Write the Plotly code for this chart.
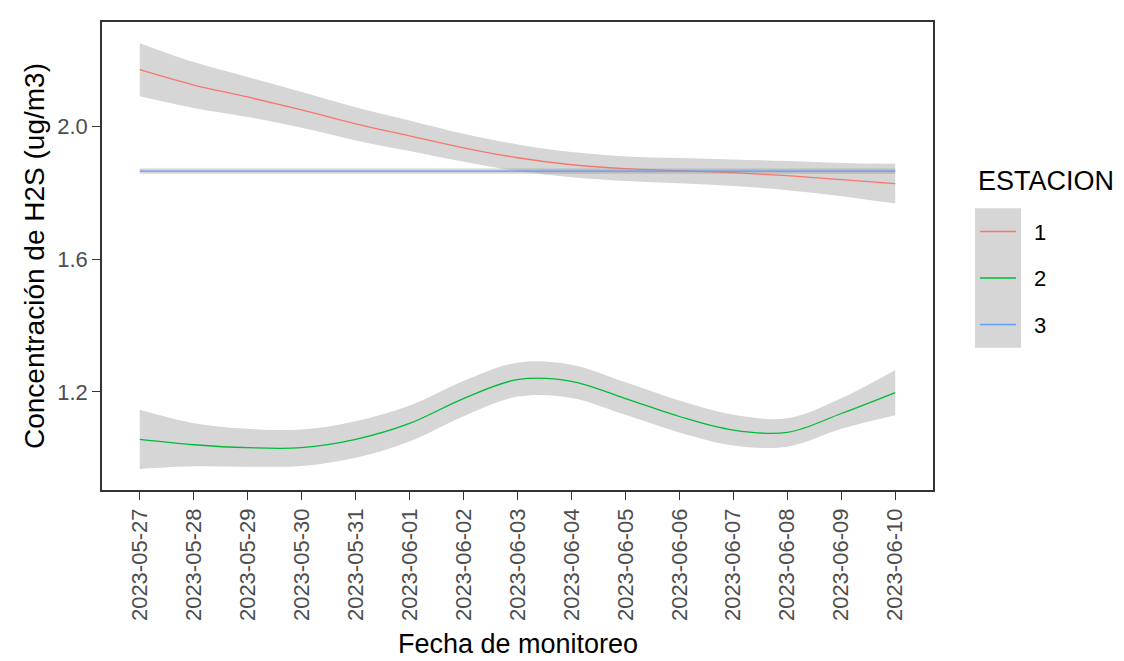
import plotly.graph_objects as go

# ---------------- data ----------------
dates = ["2023-05-27", "2023-05-28", "2023-05-29", "2023-05-30", "2023-05-31",
         "2023-06-01", "2023-06-02", "2023-06-03", "2023-06-04", "2023-06-05",
         "2023-06-06", "2023-06-07", "2023-06-08", "2023-06-09", "2023-06-10"]

est1_fit = [2.170, 2.124, 2.088, 2.049, 2.007, 1.971, 1.935, 1.905, 1.884, 1.872,
            1.866, 1.860, 1.851, 1.839, 1.827]
est1_se = [0.080, 0.069, 0.060, 0.054, 0.050, 0.046, 0.042, 0.040, 0.038, 0.037,
           0.038, 0.040, 0.044, 0.050, 0.060]

est2_fit = [1.057, 1.041, 1.032, 1.032, 1.057, 1.105, 1.180, 1.237, 1.232, 1.180,
            1.126, 1.085, 1.078, 1.135, 1.198]
est2_se = [0.089, 0.065, 0.057, 0.055, 0.055, 0.054, 0.053, 0.051, 0.050, 0.049,
           0.048, 0.046, 0.043, 0.046, 0.068]

est3_fit = [1.865] * 15
est3_se = [0.008] * 15

stations = ["1", "2", "3"]
colors = ["#F8766D", "#00BA38", "#619CFF"]
fits = [est1_fit, est2_fit, est3_fit]
ses = [est1_se, est2_se, est3_se]

y_ticks = [1.2, 1.6, 2.0]

# ---------------- figure ----------------
W, H = 1124, 661
L, R, T, B = 94, 925, 14, 482.5

fig = go.Figure()
ribbon = "rgba(153,153,153,0.4)"
for name, col, fit, se in zip(stations, colors, fits, ses):
    lo = [f - s for f, s in zip(fit, se)]
    hi = [f + s for f, s in zip(fit, se)]
    fig.add_trace(go.Scatter(x=dates, y=lo, mode="lines", line=dict(width=0, shape="spline"),
                             showlegend=False, hoverinfo="skip"))
    fig.add_trace(go.Scatter(x=dates, y=hi, mode="lines", line=dict(width=0, shape="spline"),
                             fill="tonexty", fillcolor=ribbon, showlegend=False, hoverinfo="skip"))
    fig.add_trace(go.Scatter(x=dates, y=fit, mode="lines", name=name,
                             line=dict(color=col, width=1.3, shape="spline"), showlegend=False))

FONT = "Liberation Sans, Arial, sans-serif"
axis_common = dict(showline=True, linecolor="#333333", linewidth=1.5, mirror=True,
                   showgrid=False, zeroline=False, ticks="outside", ticklen=8,
                   tickwidth=1.3, tickcolor="#333333",
                   tickfont=dict(family=FONT, size=22, color="#4D4D4D"))

fig.update_layout(
    width=W, height=H,
    margin=dict(l=L, r=W - R, t=T, b=H - B),
    paper_bgcolor="white", plot_bgcolor="white",
    showlegend=False,
    xaxis=dict(type="date", range=["2023-05-26 07:12", "2023-06-10 16:48"],
               tickvals=dates, ticktext=dates, tickangle=-90, **axis_common),
    yaxis=dict(range=[0.9047, 2.3137], tickvals=y_ticks,
               ticktext=[f"{v:.1f}" for v in y_ticks], **axis_common),
)

def px(xp):
    return (xp - L) / (R - L)

def py(yp):
    return (B - yp) / (B - T)

ann = []
# axis titles
ann.append(dict(text="Fecha de monitoreo", xref="paper", yref="paper", x=0.5, y=py(637),
                xanchor="center", yanchor="middle", showarrow=False,
                font=dict(family=FONT, size=27, color="black")))
ann.append(dict(text="Concentración de H2S (ug/m3)", xref="paper", yref="paper",
                x=px(26), y=0.5, textangle=-90, xanchor="center", yanchor="middle",
                showarrow=False, font=dict(family=FONT, size=28, color="black")))
# legend (manual, ggplot-like keys with grey ribbon background)
ann.append(dict(text="ESTACION", xref="paper", yref="paper", x=px(968), y=py(173),
                xanchor="left", yanchor="middle", showarrow=False,
                font=dict(family=FONT, size=27, color="black")))
shapes = []
key_top = 200.5
key_h = 46.5
shapes.append(dict(type="rect", xref="paper", yref="paper", x0=px(967), x1=px(1013),
                   y0=py(key_top), y1=py(key_top + 3 * key_h), fillcolor="#D6D6D6",
                   line=dict(width=0), layer="above"))
for i, (name, col) in enumerate(zip(stations, colors)):
    yc = key_top + key_h * (i + 0.5)
    shapes.append(dict(type="line", xref="paper", yref="paper", x0=px(972), x1=px(1008),
                       y0=py(yc), y1=py(yc), line=dict(color=col, width=1.5), layer="above"))
    ann.append(dict(text=name, xref="paper", yref="paper", x=px(1024), y=py(yc + 1),
                    xanchor="left", yanchor="middle", showarrow=False,
                    font=dict(family=FONT, size=22, color="black")))

fig.update_layout(annotations=ann, shapes=shapes)
fig.write_html("out.html")
